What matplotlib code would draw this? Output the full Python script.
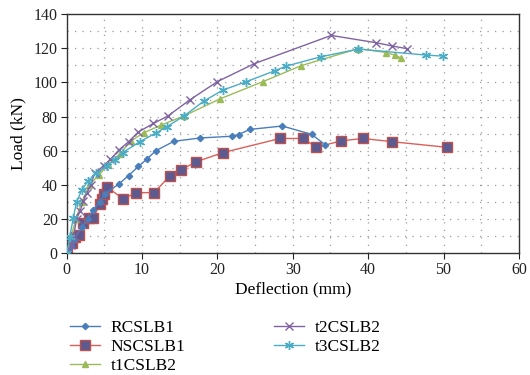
import matplotlib
matplotlib.use("Agg")
import matplotlib.pyplot as plt
from matplotlib.lines import Line2D

plt.rcParams['font.family'] = ['Liberation Serif', 'DejaVu Serif']

# Data (deflection mm, load kN)
rc_x = [0, 0.5, 0.9, 2.0, 2.8, 3.5, 4.4, 5.1, 6.9, 8.2, 9.5, 10.6, 11.8, 14.2, 17.7, 21.9, 22.8, 24.3, 28.6, 32.5, 34.3]
rc_y = [0, 4, 7.8, 15.5, 20, 25.3, 30, 35, 40.5, 45.5, 50.8, 55, 60, 65.5, 67.5, 68.5, 69.5, 72.5, 74.5, 69.6, 63.5]

ns_x = [0, 0.66, 1.1, 1.6, 2.2, 2.9, 3.5, 4.4, 4.7, 5.0, 5.4, 7.5, 9.2, 11.6, 13.7, 15.1, 17.2, 20.7,
        28.3, 31.4, 33.1, 36.4, 39.3, 43.2, 50.5]
ns_y = [0, 5.8, 9.7, 11, 17.5, 20.5, 20.5, 29, 31.8, 35, 38.6, 31.8, 35.5, 35.5, 45.5, 48.7, 53.6, 58.9,
        67.2, 67.2, 62, 65.8, 67.2, 65.3, 62]

t1_x = [0, 0.6, 1.2, 2.0, 3.0, 4.3, 5.5, 7.0, 8.5, 10.2, 12.5, 15.6, 20.4, 26.0, 31.1, 38.7, 42.4, 43.5, 44.3]
t1_y = [0, 10, 20, 30, 40, 46, 52, 58, 65.7, 70.5, 75, 80.5, 90.5, 100.4, 109.8, 119.8, 117.5, 116, 114.4]

t2_x = [0, 0.6, 0.9, 1.3, 1.8, 2.2, 2.7, 3.2, 3.7, 4.9, 5.8, 6.9, 8.2, 9.5, 11.5, 13.4, 16.4, 20.0, 24.9,
        35.1, 41.1, 43.2, 45.1]
t2_y = [0, 5, 10, 20, 25, 30.6, 35.5, 40, 46.8, 51.3, 55, 60.4, 65.3, 71, 76, 80.3, 90, 100.5, 111,
        127.5, 123.2, 121.3, 119.8]

t3_x = [0, 0.4, 0.85, 1.3, 2.0, 2.8, 3.9, 5.3, 6.4, 7.4, 9.7, 11.9, 13.3, 15.6, 18.2, 20.7, 23.8, 27.6,
        29.1, 33.7, 38.7, 47.7, 49.9]
t3_y = [0, 9.7, 20.4, 30.2, 37, 42.3, 46.8, 51.3, 54.6, 58.9, 65.3, 70.6, 74.1, 80.5, 89.1, 95.5, 100.4,
        106.8, 109.5, 115, 119.5, 116, 115.4]

x_ticks = [0, 10, 20, 30, 40, 50, 60]
y_ticks = [0, 20, 40, 60, 80, 100, 120, 140]

fig = plt.figure(figsize=(5.3, 3.75), dpi=100)
ax = fig.add_axes([0.126, 0.3245, 0.853, 0.638])

# grid
for gx in range(5, 60, 5):
    ax.axvline(gx, color='#9a9a9a', lw=0.9, ls=(0, (1, 5)), zorder=0)
for gy in range(10, 140, 10):
    ax.axhline(gy, color='#9a9a9a', lw=0.9, ls=(0, (1, 5)), zorder=0)

asterisk = (6, 2, 0)
s_rc = dict(color='#4a7ebb', marker='D', ms=3.2, lw=1.0, mfc='#4a7ebb', mec='#4a7ebb')
s_ns = dict(color='#d9605a', marker='s', ms=6.5, lw=1.0, mfc='#5c5a8e', mec='#c0504d', mew=1.0)
s_t1 = dict(color='#9bbb59', marker='^', ms=4.5, lw=1.0, mfc='#9bbb59', mec='#9bbb59')
s_t2 = dict(color='#8064a2', marker='x', ms=5.5, lw=1.0, mew=1.0)
s_t3 = dict(color='#4bacc6', marker=asterisk, ms=6.5, lw=1.0, mew=1.0)

ax.plot(rc_x, rc_y, **s_rc, zorder=3)
ax.plot(ns_x, ns_y, **s_ns, zorder=2)
ax.plot(t1_x, t1_y, **s_t1, zorder=3)
ax.plot(t2_x, t2_y, **s_t2, zorder=3)
ax.plot(t3_x, t3_y, **s_t3, zorder=4)

ax.set_xlim(0, 60)
ax.set_ylim(0, 140)
ax.set_xticks(x_ticks)
ax.set_yticks(y_ticks)
ax.tick_params(direction='out', length=4, width=0.8, labelsize=11.5, colors='#222222', pad=2.5)
for sp in ax.spines.values():
    sp.set_color('#333333')
    sp.set_linewidth(1.0)
ax.set_xlabel('Deflection (mm)', fontsize=12.5, labelpad=2)
ax.set_ylabel('Load (kN)', fontsize=12.5, labelpad=5)

h1 = [Line2D([], [], **s_rc), Line2D([], [], **s_ns), Line2D([], [], **s_t1)]
h2 = [Line2D([], [], **s_t2), Line2D([], [], **s_t3)]
kw = dict(frameon=False, fontsize=12.5, handlelength=1.75, handletextpad=0.6,
          labelspacing=0.17, borderpad=0, borderaxespad=0, loc='upper left')
fig.legend(h1, ['RCSLB1', 'NSCSLB1', 't1CSLB2'], bbox_to_anchor=(70 / 530, 1 - 320 / 375), **kw)
fig.legend(h2, ['t2CSLB2', 't3CSLB2'], bbox_to_anchor=(274 / 530, 1 - 320 / 375), **kw)

fig.savefig('out.png', dpi=100)
